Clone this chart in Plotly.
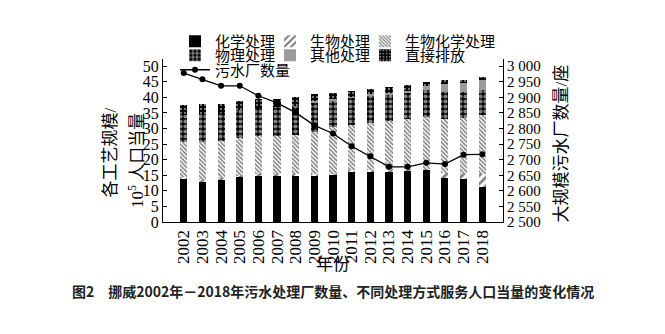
import plotly.graph_objects as go

years = [str(y) for y in range(2002, 2019)]
chem = [13.9, 12.9, 13.6, 14.5, 15.0, 15.0, 15.0, 15.0, 15.2, 16.3, 16.3, 16.3, 16.6, 16.8, 14.1, 13.7, 11.2]
bio = [0.4, 0.5, 0.4, 0.3, 0.3, 0.3, 0.3, 0.3, 0.3, 0.3, 0.3, 0.3, 0.3, 0.3, 1.6, 1.8, 4.3]
biochem = [11.4, 12.3, 12.0, 12.0, 12.3, 12.3, 12.5, 13.6, 15.0, 14.5, 15.3, 15.7, 16.0, 16.6, 17.5, 17.9, 18.8]
phys = [8.6, 9.1, 8.9, 9.1, 9.0, 9.3, 9.5, 9.6, 8.5, 8.7, 8.8, 8.7, 8.7, 8.8, 8.5, 8.3, 8.0]
other = [0, 0, 0, 0, 0, 0, 0, 0.3, 0.4, 0.3, 0.3, 0.3, 0.5, 1.0, 2.7, 3.0, 3.2]
direct = [3.3, 3.1, 3.0, 2.9, 2.9, 2.6, 2.7, 2.4, 2.0, 2.0, 1.8, 2.0, 1.8, 1.5, 1.1, 0.8, 0.9]
plants = [2978, 2958, 2937, 2937, 2905, 2882, 2851, 2810, 2784, 2743, 2711, 2677, 2677, 2690, 2686, 2716, 2717]

left_ticks = list(range(0, 51, 5))
right_ticks = list(range(2500, 3001, 50))
right_labels = [f"{v // 1000} {v % 1000:03d}" for v in right_ticks]

FONT = "'Liberation Serif', 'Noto Sans CJK SC'"
W, H = 665, 334
L, R, T, B = 163, 503, 59, 222

def px(x):
    return (x - L) / (R - L)

def py(y):
    return (B - y) / (B - T)

fig = go.Figure()

bar_specs = [
    ("化学处理", chem, dict(color="black"), "legend", None),
    ("生物处理", bio, dict(color="white", pattern=dict(shape="/", fgcolor="black", bgcolor="white", size=6, solidity=0.45)), "legend", None),
    ("生物化学处理", biochem, dict(color="white", pattern=dict(shape="\\", fgcolor="black", bgcolor="white", size=3, solidity=0.5)), "legend", 100),
    ("物理处理", phys, dict(color="black", pattern=dict(shape=".", fgcolor="white", bgcolor="black", size=5, solidity=0.55)), "legend2", None),
    ("其他处理", other, dict(color="#8a8a8a", pattern=dict(shape="-", fgcolor="#555555", bgcolor="#b0b0b0", size=2, solidity=0.5)), "legend2", None),
    ("直接排放", direct, dict(color="black", pattern=dict(shape=".", fgcolor="white", bgcolor="black", size=4, solidity=0.25)), "legend2", 100),
]
for name, vals, marker, lg, lw in bar_specs:
    marker = dict(marker)
    marker["line"] = dict(width=0)
    tr = go.Bar(x=years, y=vals, name=name, marker=marker, legend=lg, yaxis="y")
    if lw:
        tr.legendwidth = lw
    fig.add_trace(tr)

fig.add_trace(go.Scatter(x=years, y=plants, name="污水厂数量", mode="lines+markers",
                         line=dict(color="black", width=1.3), marker=dict(color="black", size=6),
                         yaxis="y2", legend="legend3", legendwidth=100))

leg_common = dict(orientation="h", xref="container", yref="container", xanchor="left", yanchor="middle",
                  font=dict(family=FONT, size=15, color="black"), bgcolor="rgba(0,0,0,0)",
                  entrywidth=50, entrywidthmode="pixels", itemwidth=30, tracegroupgap=0,
                  traceorder="normal")

fig.update_layout(
    width=W, height=H,
    margin=dict(l=L, r=W - R, t=T, b=H - B, autoexpand=False),
    paper_bgcolor="white", plot_bgcolor="white",
    barmode="stack", bargap=0.62,
    font=dict(family=FONT, size=15, color="black"),
    showlegend=True,
    legend=dict(leg_common, x=175 / W, y=1 - 41.5 / H),
    legend2=dict(leg_common, x=175 / W, y=1 - 55.5 / H),
    legend3=dict(leg_common, x=175 / W, y=1 - 70 / H),
    xaxis=dict(type="category", tickmode="array", tickvals=years, ticktext=years,
               showline=True, linecolor="black", linewidth=1.2, ticks="",
               tickangle=-90, tickfont=dict(family=FONT, size=17), showgrid=False),
    yaxis=dict(range=[0, 52.3], tickvals=left_ticks, showline=True, linecolor="black", linewidth=1.2,
               ticks="inside", ticklen=4, tickcolor="black", showgrid=False, zeroline=False,
               tickfont=dict(family=FONT, size=16)),
    yaxis2=dict(range=[2500, 3023], overlaying="y", side="right", tickvals=right_ticks, ticktext=right_labels,
                showline=True, linecolor="black", linewidth=1.2, ticks="inside", ticklen=4, tickcolor="black",
                showgrid=False, zeroline=False, tickfont=dict(family=FONT, size=15)),
    annotations=[
        dict(text="年份", x=0.5, y=py(276), xref="paper", yref="paper", showarrow=False,
             font=dict(family=FONT, size=17)),
        dict(text="各工艺规模/", x=px(98), y=py(153), xref="paper", yref="paper", showarrow=False,
             textangle=-90, font=dict(family=FONT, size=17)),
        dict(text="10<sup>5</sup> 人口当量", x=px(123), y=py(161), xref="paper", yref="paper", showarrow=False,
             textangle=-90, font=dict(family=FONT, size=17)),
        dict(text="大规模污水厂数量/座", x=px(572), y=py(144), xref="paper", yref="paper", showarrow=False,
             textangle=-90, font=dict(family=FONT, size=17)),
        dict(text="<b>图2　挪威2002年－2018年污水处理厂数量、不同处理方式服务人口当量的变化情况</b>",
             x=px(333), y=py(303), xref="paper", yref="paper", showarrow=False,
             font=dict(family="Noto Sans CJK SC", size=14, color="#222222")),
    ],
)

fig.write_html("out.html")
